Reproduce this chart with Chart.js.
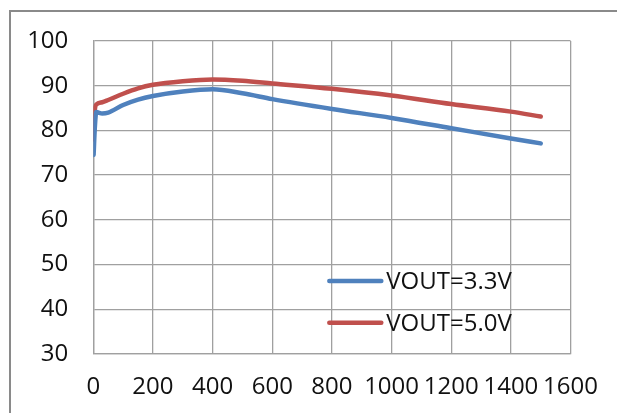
<!DOCTYPE html>
<html>
<head>
<meta charset="utf-8">
<script src="https://cdn.jsdelivr.net/npm/chart.js@4/dist/chart.umd.min.js"></script>
<style>
  html, body { margin: 0; padding: 0; background: #fff; }
  #wrap { position: relative; width: 617px; height: 413px; }
</style>
</head>
<body>
<div id="wrap"><canvas id="c" width="617" height="413"></canvas></div>
<script>
// Load current (mA) sample points
const xValues = [1, 5, 10, 30, 50, 100, 150, 200, 300, 400, 500, 600, 800, 1000, 1200, 1400, 1500];
// Efficiency (%) for VOUT=3.3V
const eff33 = [74.5, 80.5, 84.1, 83.8, 84.0, 85.7, 86.9, 87.7, 88.7, 89.2, 88.3, 87.0, 84.8, 82.8, 80.5, 78.2, 77.1];
// Efficiency (%) for VOUT=5.0V
const eff50 = [78.0, 84.5, 85.8, 86.3, 86.8, 88.2, 89.4, 90.2, 91.0, 91.4, 91.1, 90.5, 89.3, 87.8, 85.9, 84.2, 83.1];
const seriesLabels = ['VOUT=3.3V', 'VOUT=5.0V'];
const seriesColors = ['#4F81BD', '#C0504D'];
const xTicks = [0, 200, 400, 600, 800, 1000, 1200, 1400, 1600];
const yTicks = [30, 40, 50, 60, 70, 80, 90, 100];

const FONT = "'Open Sans', 'DejaVu Sans', sans-serif";

const toPoints = (ys) => xValues.map((x, i) => ({ x: x, y: ys[i] }));

const frameAndLegend = {
  id: 'frameAndLegend',
  beforeDraw(chart) {
    const ctx = chart.ctx;
    ctx.save();
    ctx.strokeStyle = '#8a8a8a';
    ctx.lineWidth = 2;
    ctx.beginPath();
    ctx.moveTo(10, 413);
    ctx.lineTo(10, 11);
    ctx.lineTo(617, 11);
    ctx.stroke();
    ctx.restore();
  },
  afterDatasetsDraw(chart) {
    const ctx = chart.ctx;
    const a = chart.chartArea;
    ctx.save();
    chart.data.datasets.forEach((ds, i) => {
      const y = a.top + 240 + i * 41.7;
      const x0 = a.left + 236;
      ctx.strokeStyle = ds.borderColor;
      ctx.lineWidth = 4.5;
      ctx.lineCap = 'round';
      ctx.beginPath();
      ctx.moveTo(x0, y);
      ctx.lineTo(x0 + 52, y);
      ctx.stroke();
      ctx.fillStyle = '#111';
      ctx.font = '24px ' + FONT;
      ctx.textBaseline = 'middle';
      ctx.textAlign = 'left';
      ctx.fillText(ds.label, x0 + 57, y + 1);
    });
    ctx.restore();
  }
};

new Chart(document.getElementById('c'), {
  type: 'line',
  data: {
    datasets: [
      { label: seriesLabels[0], data: toPoints(eff33), borderColor: seriesColors[0], backgroundColor: seriesColors[0] },
      { label: seriesLabels[1], data: toPoints(eff50), borderColor: seriesColors[1], backgroundColor: seriesColors[1] }
    ]
  },
  options: {
    responsive: false,
    animation: false,
    devicePixelRatio: 1,
    layout: { padding: { left: 0, top: 41, right: 45, bottom: 0 } },
    elements: {
      line: { borderWidth: 4.5, cubicInterpolationMode: 'monotone', borderCapStyle: 'round', borderJoinStyle: 'round' },
      point: { radius: 0, hoverRadius: 0 }
    },
    plugins: { legend: { display: false }, tooltip: { enabled: false } },
    scales: {
      x: {
        type: 'linear',
        min: 0, max: 1600,
        afterBuildTicks: (s) => { s.ticks = xTicks.map(v => ({ value: v })); },
        afterFit: (s) => { s.height = 59; },
        grid: { color: '#a0a0a0', lineWidth: 1.3, drawTicks: false },
        border: { color: '#a0a0a0', width: 1.3 },
        ticks: { color: '#111', font: { family: FONT, size: 24 }, padding: 19, maxRotation: 0, autoSkip: false,
                 callback: (v) => String(v) }
      },
      y: {
        min: 30, max: 100,
        afterBuildTicks: (s) => { s.ticks = yTicks.map(v => ({ value: v })); },
        afterFit: (s) => { s.width = 93.3; },
        grid: { color: '#a0a0a0', lineWidth: 1.3, drawTicks: false },
        border: { color: '#a0a0a0', width: 1.3 },
        ticks: { color: '#111', font: { family: FONT, size: 24 }, padding: 25, callback: (v) => String(v) }
      }
    }
  },
  plugins: [frameAndLegend]
});
</script>
</body>
</html>
